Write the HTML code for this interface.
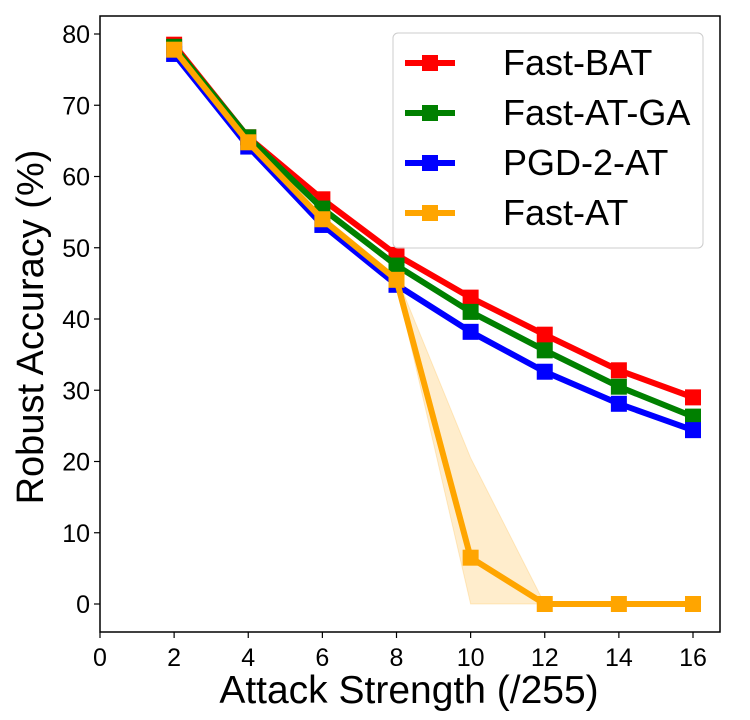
<!DOCTYPE html>
<html><head><meta charset="utf-8"><style>body{margin:0;background:#fff}svg{display:block;font-family:"Liberation Sans",sans-serif}</style></head>
<body>
<svg id="chart" width="750" height="720" viewBox="0 0 750 720" xmlns="http://www.w3.org/2000/svg"></svg>
<script>
const xValues=[2,4,6,8,10,12,14,16];
const fastBAT=[78.5,65.5,56.8,49,43,37.8,32.8,29];
const fastATGA=[78.2,65.5,55.5,47.5,41,35.6,30.5,26.3];
const pgd2AT=[77.2,64.2,53.2,44.8,38.2,32.6,28.1,24.4];
const fastAT=[77.8,64.8,54,45.5,6.5,0,0,0];
const fastATUpper=[78.2,65.2,54.5,46,20.5,0,0,0];
const fastATLower=[77.4,64.4,53.5,45,0,0,0,0];
const xTicks=[0,2,4,6,8,10,12,14,16];
const yTicks=[0,10,20,30,40,50,60,70,80];
const seriesNames=["Fast-BAT","Fast-AT-GA","PGD-2-AT","Fast-AT"];
const seriesColors=["#ff0000","#008000","#0000ff","#ffa500"];

const svg=document.getElementById('chart');
const NS="http://www.w3.org/2000/svg";
const L=100,R=720,T=16,B=632;
const sx=v=>L+(v-0)*(693-100)/16;
const sy=v=>604-v*(604-34)/80;
function mk(tag,attrs,parent){const e=document.createElementNS(NS,tag);for(const k in attrs)e.setAttribute(k,attrs[k]);(parent||svg).appendChild(e);return e;}

let pts=xValues.map((x,i)=>sx(x)+','+sy(fastATUpper[i]));
pts=pts.concat(xValues.map((x,i)=>sx(x)+','+sy(fastATLower[i])).reverse());
const band=mk('polygon',{points:pts.join(' '),fill:'#ffa500','fill-opacity':0.2,stroke:'#ffa500','stroke-opacity':0.2});



const all=[fastBAT,fastATGA,pgd2AT,fastAT];
all.forEach((s,k)=>{
  const g=mk('g',{});
  
  
  mk('polyline',{points:xValues.map((x,i)=>sx(x)+','+sy(s[i])).join(' '),fill:'none',stroke:seriesColors[k],'stroke-width':6,'stroke-linejoin':'round'},g);
  xValues.forEach((x,i)=>{
    const r=mk('rect',{x:sx(x)-8,y:sy(s[i])-8,width:16,height:16,fill:seriesColors[k]},g);
    
    
  });
});

const frame=mk('rect',{x:L,y:T,width:R-L,height:B-T,fill:'none',stroke:'#000','stroke-width':1.5});


xTicks.forEach(t=>{
  mk('line',{x1:sx(t),x2:sx(t),y1:B,y2:B+6,stroke:'#000','stroke-width':1.2});
  const tx=mk('text',{x:sx(t),y:B+34,'font-size':25,'text-anchor':'middle'});
  tx.textContent=t;
  
  
});
yTicks.forEach(t=>{
  mk('line',{x1:L-6,x2:L,y1:sy(t),y2:sy(t),stroke:'#000','stroke-width':1.2});
  const tx=mk('text',{x:L-10,y:sy(t)+9,'font-size':25,'text-anchor':'end'});
  tx.textContent=t;
  
  
});
const xt=mk('text',{x:409,y:703,'font-size':39,'text-anchor':'middle'});
xt.textContent='Attack Strength (/255)';


const yt=mk('text',{x:0,y:0,'font-size':38,'text-anchor':'middle',transform:'translate(43,327) rotate(-90)'});
yt.textContent='Robust Accuracy (%)';



const lg=mk('g',{});


mk('rect',{x:393,y:33,width:310,height:215,rx:5,fill:'#fff','fill-opacity':0.8,stroke:'#ccc','stroke-width':1},lg);
seriesNames.forEach((n,k)=>{
  const y=63+k*50;
  const e=mk('g',{},lg);
  
  
  mk('line',{x1:405,x2:455,y1:y,y2:y,stroke:seriesColors[k],'stroke-width':6},e);
  mk('rect',{x:422,y:y-8,width:16,height:16,fill:seriesColors[k]},e);
  const t=mk('text',{x:503,y:y+12,'font-size':36},e);
  t.textContent=n;
});
</script>
</body></html>
